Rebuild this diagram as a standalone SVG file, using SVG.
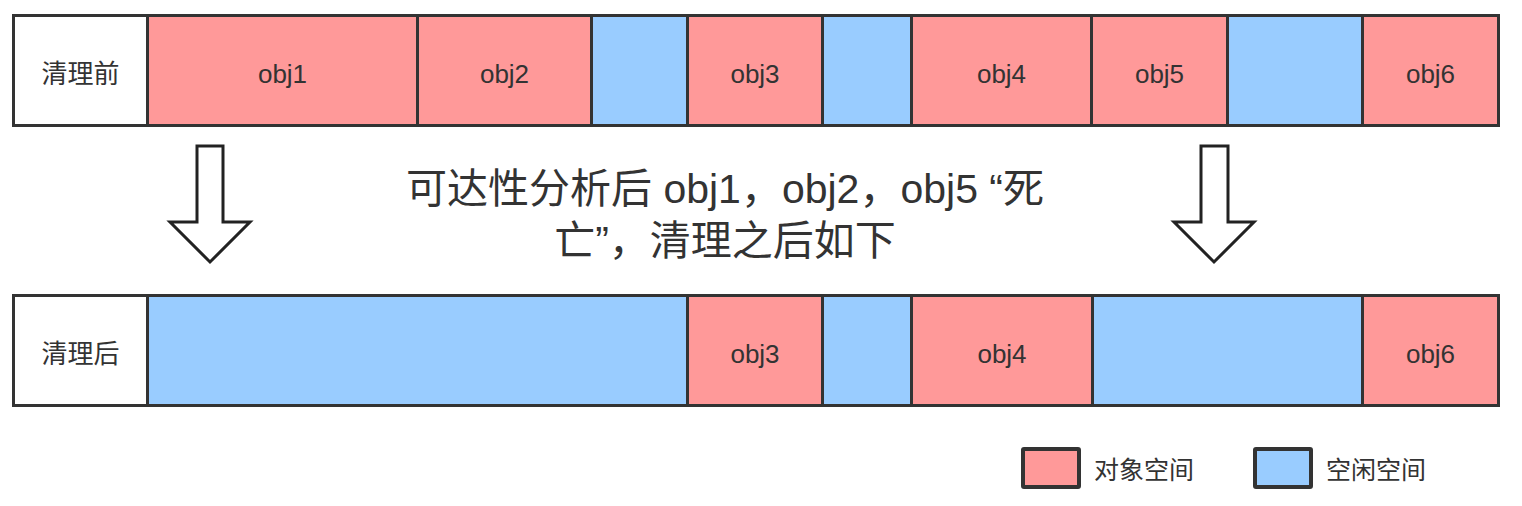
<svg xmlns="http://www.w3.org/2000/svg" width="1522" height="506" viewBox="0 0 1522 506">
  <style>
    .cell { stroke: #333333; stroke-width: 3; }
    .obj { fill: #ff9999; }
    .free { fill: #99ccff; }
    .blank { fill: #ffffff; }
    .t { font-family: "Liberation Sans", "Noto Sans CJK SC", sans-serif; font-size: 26px; fill: #333333; text-anchor: middle; }
    .main { font-family: "Liberation Sans", "Noto Sans CJK SC", sans-serif; font-size: 41px; fill: #333333; text-anchor: middle; }
    .leg { font-family: "Liberation Sans", "Noto Sans CJK SC", sans-serif; font-size: 25px; fill: #333333; }
    .legbox { stroke: #333333; stroke-width: 4; }
    .arrow { fill: #ffffff; stroke: #222222; stroke-width: 3; stroke-linejoin: miter; }
  </style>
  <rect width="1522" height="506" fill="#ffffff"/>

  <!-- before cleanup row -->
  <g id="before-label"><rect class="cell blank" x="13.5" y="15.5" width="134" height="110"/><text class="t" x="80.5" y="83">清理前</text></g>
  <g id="before-obj1"><rect class="cell obj" x="147.5" y="15.5" width="270" height="110"/><text class="t" x="282.5" y="83">obj1</text></g>
  <g id="before-obj2"><rect class="cell obj" x="417.5" y="15.5" width="174" height="110"/><text class="t" x="504.5" y="83">obj2</text></g>
  <g id="before-free1"><rect class="cell free" x="591.5" y="15.5" width="96" height="110"/></g>
  <g id="before-obj3"><rect class="cell obj" x="687.5" y="15.5" width="135" height="110"/><text class="t" x="755" y="83">obj3</text></g>
  <g id="before-free2"><rect class="cell free" x="822.5" y="15.5" width="89" height="110"/></g>
  <g id="before-obj4"><rect class="cell obj" x="911.5" y="15.5" width="180" height="110"/><text class="t" x="1001.5" y="83">obj4</text></g>
  <g id="before-obj5"><rect class="cell obj" x="1091.5" y="15.5" width="136" height="110"/><text class="t" x="1159.5" y="83">obj5</text></g>
  <g id="before-free3"><rect class="cell free" x="1227.5" y="15.5" width="135" height="110"/></g>
  <g id="before-obj6"><rect class="cell obj" x="1362.5" y="15.5" width="136" height="110"/><text class="t" x="1430.5" y="83">obj6</text></g>

  <!-- after cleanup row -->
  <g id="after-label"><rect class="cell blank" x="13.5" y="295.5" width="134" height="110"/><text class="t" x="80.5" y="363">清理后</text></g>
  <g id="after-free1"><rect class="cell free" x="147.5" y="295.5" width="540" height="110"/></g>
  <g id="after-obj3"><rect class="cell obj" x="687.5" y="295.5" width="135" height="110"/><text class="t" x="755" y="363">obj3</text></g>
  <g id="after-free2"><rect class="cell free" x="822.5" y="295.5" width="89" height="110"/></g>
  <g id="after-obj4"><rect class="cell obj" x="911.5" y="295.5" width="181" height="110"/><text class="t" x="1002" y="363">obj4</text></g>
  <g id="after-free3"><rect class="cell free" x="1092.5" y="295.5" width="270" height="110"/></g>
  <g id="after-obj6"><rect class="cell obj" x="1362.5" y="295.5" width="136" height="110"/><text class="t" x="1430.5" y="363">obj6</text></g>

  <!-- arrows -->
  <g id="connectors">
    <path class="arrow" d="M197,146 L223,146 L223,222 L250,222 L210,262 L170,222 L197,222 Z"/>
    <path class="arrow" d="M1201,146 L1228,146 L1228,222 L1254,222 L1214,262 L1174,222 L1201,222 Z"/>
  </g>

  <!-- caption -->
  <g id="caption">
    <text class="main" x="725" y="203">可达性分析后 obj1，obj2，obj5 “死</text>
    <text class="main" x="725" y="255">亡”，清理之后如下</text>
  </g>

  <!-- legend -->
  <g id="legend-obj"><rect class="legbox obj" x="1023" y="449" width="56" height="38" rx="1"/><text class="leg" x="1094" y="479">对象空间</text></g>
  <g id="legend-free"><rect class="legbox free" x="1255" y="449" width="56" height="38" rx="1"/><text class="leg" x="1326" y="479">空闲空间</text></g>
</svg>
